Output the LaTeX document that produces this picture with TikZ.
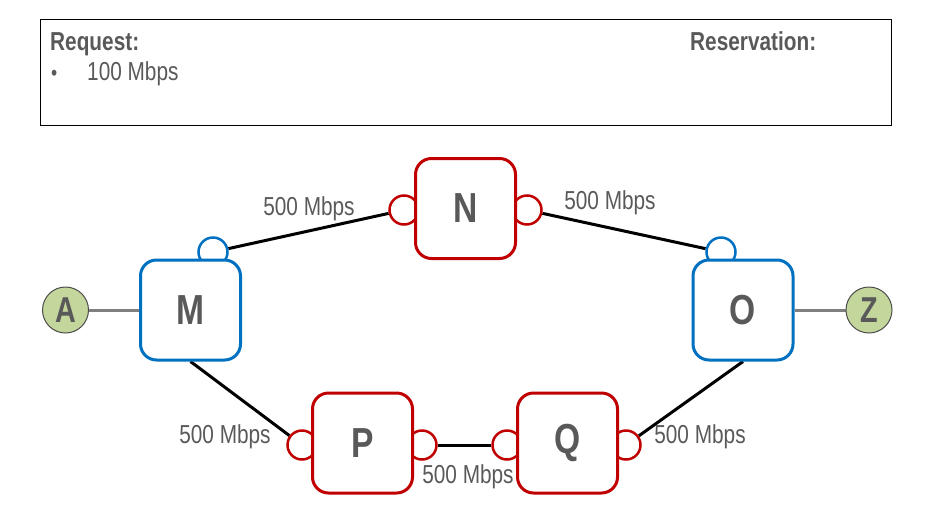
\documentclass[tikz,border=0pt]{standalone}
\usepackage{fontspec}
\setmainfont{Liberation Sans}[FakeStretch=0.8]
\usetikzlibrary{positioning}
\definecolor{txtgray}{HTML}{595959}
\definecolor{netblue}{HTML}{0070C0}
\definecolor{netred}{HTML}{C00000}
\definecolor{endgreen}{HTML}{C3D69B}
\definecolor{linkgray}{HTML}{7F7F7F}
\pgfdeclarelayer{links}
\pgfdeclarelayer{ports}
\pgfsetlayers{links,ports,main}

\begin{document}
\begin{tikzpicture}[x=1pt,y=-1pt,
  box/.style={draw, rectangle, rounded corners=16pt, line width=3pt, fill=white,
    minimum size=100pt, inner sep=0pt, text=txtgray, font=\fontsize{42}{42}\selectfont\bfseries},
  port/.style={draw, circle, line width=2.5pt, fill=white, minimum size=29pt, inner sep=0pt},
  endpt/.style={draw=black!70, circle, line width=1pt, fill=endgreen, minimum size=46pt,
    inner sep=0pt, text=txtgray, font=\fontsize{36}{36}\selectfont\bfseries},
  lbl/.style={text=txtgray, inner sep=0pt, font=\fontsize{26}{26}\selectfont},
  head/.style={text=txtgray, inner sep=0pt, anchor=base west, font=\fontsize{26}{26}\selectfont\bfseries},
  link/.style={draw=black, line width=3pt},
  access/.style={draw=linkgray, line width=3pt}]

\useasboundingbox (0,0) rectangle (936,517);

% info box
\node (info)[draw, line width=0.9pt, minimum width=851pt, minimum height=106pt] at (465.5,72) {};
\node (req)[head] at (50,50) {Request:};
\node (resv)[head] at (690,50) {Reservation:};
\node (bul)[lbl, anchor=base west, font=\fontsize{22}{22}\selectfont] at (51,80) {•};
\node (rate)[lbl, anchor=base west] at (87,80) {100 Mbps};

% switches
\node (M)[box, draw=netblue] at (190.5,310) {M};
\node (N)[box, draw=netred] at (465.5,208.5) {N};
\node (O)[box, draw=netblue] at (743,310) {O};
\node (P)[box, draw=netred] at (362.5,443) {P};
\node (Q)[box, draw=netred] at (567.5,443) {Q};

\node (A)[endpt, left=50pt of M] {A};
\node (Z)[endpt, right=51pt of O] {Z};

% ports
\begin{pgfonlayer}{ports}
\node (mt)[port, draw=netblue] at (213,252) {};
\node (ot)[port, draw=netblue] at (721,252) {};
\node (nl)[port, draw=netred] at (404,210) {};
\node (nr)[port, draw=netred] at (527,210) {};
\node (pl)[port, draw=netred] at (302,445) {};
\node (pr)[port, draw=netred] at (422,445) {};
\node (ql)[port, draw=netred] at (507,445) {};
\node (qr)[port, draw=netred] at (626,445) {};
\end{pgfonlayer}

% links
\begin{pgfonlayer}{links}
\draw [link] (mt) -- (nl);
\draw [link] (nr) -- (ot);
\draw [link] (M.south) -- (pl);
\draw [link] (pr) -- (ql);
\draw [link] (O.south) -- (qr);
\draw [access] (A) -- (M);
\draw [access] (O) -- (Z);
\end{pgfonlayer}

\node (bwmn)[lbl] at (309,209) {500 Mbps};
\node (bwno)[lbl] at (610,203) {500 Mbps};
\node (bwmp)[lbl] at (225,437) {500 Mbps};
\node (bwpq)[lbl] at (468,477) {500 Mbps};
\node (bwqo)[lbl] at (700,437) {500 Mbps};

\end{tikzpicture}
\end{document}
